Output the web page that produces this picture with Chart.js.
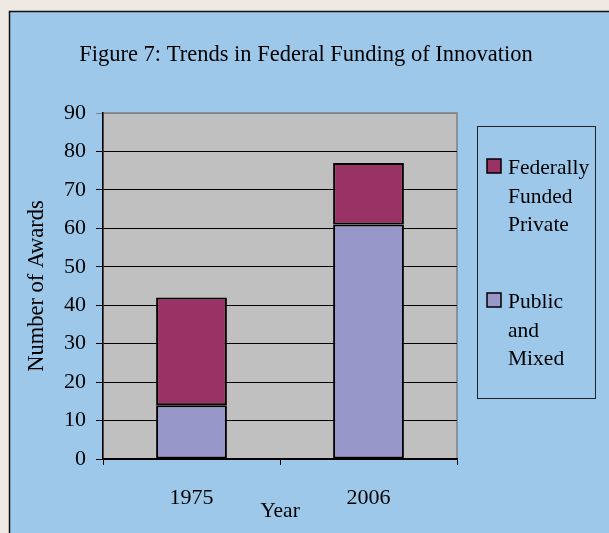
<!DOCTYPE html>
<html><head><meta charset="utf-8">
<script src="https://cdn.jsdelivr.net/npm/chart.js@4"></script>
<style>html,body{margin:0;padding:0;background:#EEEAE3;}#wrap{width:609px;height:533px;}</style>
</head><body><div id="wrap"><canvas id="c" width="609" height="533"></canvas></div>
<script>
const categories = ['1975', '2006'];
const publicMixed = [14, 61];
const fedPrivate = [28, 16];
const yTicks = [0, 10, 20, 30, 40, 50, 60, 70, 80, 90];
const titleText = 'Figure 7: Trends in Federal Funding of Innovation';
const yTitle = 'Number of Awards';
const xTitle = 'Year';
const legendPublic = ['Public', 'and', 'Mixed'];
const legendFed = ['Federally', 'Funded', 'Private'];

const FONT = "'Liberation Serif', 'Times New Roman', serif";

const bgPlugin = {
  id: 'bg',
  beforeDraw(chart) {
    const ctx = chart.ctx, a = chart.chartArea;
    ctx.save();
    ctx.fillStyle = '#EEEAE3';
    ctx.fillRect(0, 0, chart.width, chart.height);
    ctx.fillStyle = '#9DC8EA';
    ctx.fillRect(9, 11, chart.width - 9, chart.height - 11);
    ctx.strokeStyle = '#111';
    ctx.lineWidth = 1.5;
    ctx.beginPath();
    ctx.moveTo(9.5, chart.height);
    ctx.lineTo(9.5, 11.5);
    ctx.lineTo(chart.width, 11.5);
    ctx.stroke();
    ctx.fillStyle = '#C0C0C0';
    ctx.fillRect(a.left, a.top, a.right - a.left, a.bottom - a.top);
    ctx.strokeStyle = '#808080';
    ctx.lineWidth = 1.5;
    ctx.strokeRect(a.left, a.top, a.right - a.left, a.bottom - a.top);
    // title
    ctx.fillStyle = '#000';
    ctx.font = '22.5px ' + FONT;
    ctx.textAlign = 'center';
    ctx.textBaseline = 'middle';
    ctx.fillText(titleText, 306, 55);
    ctx.restore();
  }
};

const legendPlugin = {
  id: 'boxLegend',
  afterDraw(chart) {
    const ctx = chart.ctx, a = chart.chartArea;
    const bx = a.right + 20, by = a.top + 13, bw = 118, bh = 272;
    ctx.save();
    ctx.strokeStyle = '#222';
    ctx.lineWidth = 1;
    ctx.strokeRect(bx + 0.5, by + 0.5, bw, bh);
    ctx.font = '21.5px ' + FONT;
    ctx.textBaseline = 'alphabetic';
    ctx.fillStyle = '#000';
    const items = [
      { ds: chart.data.datasets[1], lines: legendFed, base: by + 48 },
      { ds: chart.data.datasets[0], lines: legendPublic, base: by + 182 }
    ];
    items.forEach(it => {
      ctx.fillStyle = it.ds.backgroundColor;
      ctx.fillRect(bx + 10, it.base - 15, 14, 14);
      ctx.strokeStyle = '#000';
      ctx.lineWidth = 1.5;
      ctx.strokeRect(bx + 10, it.base - 15, 14, 14);
      ctx.fillStyle = '#000';
      it.lines.forEach((ln, i) => ctx.fillText(ln, bx + 31, it.base + i * 28.5));
    });
    ctx.restore();
  }
};

new Chart(document.getElementById('c'), {
  type: 'bar',
  data: {
    labels: categories,
    datasets: [
      { label: legendPublic.join(' '), data: publicMixed, backgroundColor: '#9797CA', borderColor: '#000', borderWidth: 2, borderSkipped: false },
      { label: legendFed.join(' '), data: fedPrivate, backgroundColor: '#993366', borderColor: '#000', borderWidth: 2, borderSkipped: false }
    ]
  },
  options: {
    responsive: false,
    animation: false,
    layout: { padding: { left: 0, right: 152, top: 113, bottom: 0 } },
    datasets: { bar: { barPercentage: 0.4, categoryPercentage: 1 } },
    plugins: {
      legend: { display: false },
      tooltip: { enabled: false },
      title: { display: false }
    },
    scales: {
      x: {
        stacked: true,
        afterFit(s) { s.height = 74; },
        grid: { offset: true, drawOnChartArea: false, drawTicks: true, tickLength: 6, color: '#000', lineWidth: 1 },
        border: { color: '#000', width: 1.5 },
        ticks: { color: '#000', font: { family: FONT, size: 22 }, padding: 20 },
        title: { display: true, text: xTitle, color: '#000', font: { family: FONT, size: 21.5 }, padding: { top: 0, bottom: 9 } }
      },
      y: {
        stacked: true,
        min: 0, max: 90,
        afterFit(s) { s.width = 103; },
        afterBuildTicks(s) { s.ticks = yTicks.map(v => ({ value: v })); },
        grid: {
          color: ctx => (ctx.tick && ctx.tick.value === 90) ? '#808080' : '#000',
          lineWidth: 1, drawTicks: true, tickLength: 7
        },
        border: { color: '#000', width: 1.5 },
        ticks: { color: '#000', font: { family: FONT, size: 22 }, padding: 10 },
        title: { display: true, text: yTitle, color: '#000', font: { family: FONT, size: 22.5 }, padding: { top: 24, bottom: 0 } }
      }
    }
  },
  plugins: [bgPlugin, legendPlugin]
});
</script></body></html>
